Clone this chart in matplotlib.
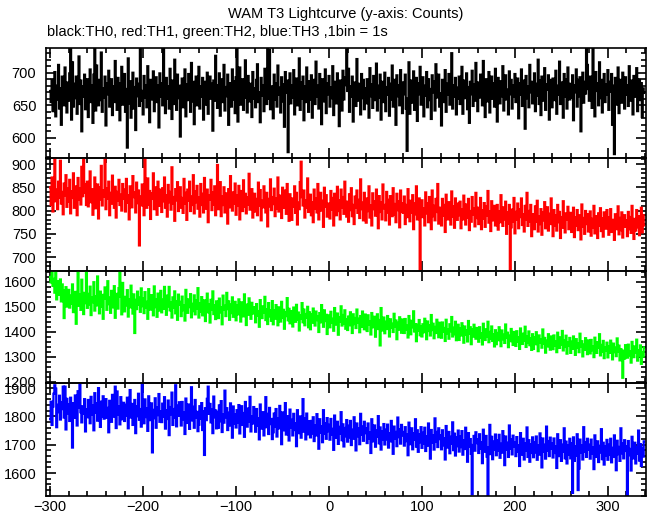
import numpy as np
import matplotlib
matplotlib.use("Agg")
import matplotlib.pyplot as plt
from matplotlib.ticker import MultipleLocator

plt.rcParams['font.family'] = ['Liberation Sans', 'DejaVu Sans']

title = "WAM T3 Lightcurve (y-axis: Counts)"
subtitle = "black:TH0, red:TH1, green:TH2, blue:TH3 ,1bin = 1s"

t_start = -300
bin_size = 1

th0 = [
672,655,690,641,668,701,633,680,659,712,645,676,620,694,667,650,708,662,639,685,
657,699,740,628,716,648,683,661,694,637,670,725,652,688,610,679,663,697,644,671,
690,632,668,705,655,681,623,697,738,642,711,674,650,689,658,731,640,676,662,694,
619,684,667,703,648,672,690,635,679,655,718,661,643,692,670,627,684,709,651,666,
698,640,675,585,722,653,687,631,669,700,645,678,612,691,664,683,649,737,657,672,
636,695,662,681,647,710,668,624,689,659,676,702,641,670,693,655,680,616,699,663,
684,650,742,671,638,692,660,679,645,706,667,629,688,652,720,674,643,697,661,680,
602,668,691,647,676,705,633,682,658,698,671,640,715,656,686,621,673,694,650,667,
709,645,679,663,692,628,686,669,651,700,637,676,694,660,683,611,688,657,726,670,
646,681,699,634,667,690,655,712,642,678,664,697,620,684,671,648,705,659,687,638,
693,740,625,680,708,651,674,690,643,662,719,677,639,695,656,683,668,632,701,660,
676,647,689,713,655,670,624,692,665,681,641,706,673,652,738,660,735,644,679,668,
630,697,659,684,648,711,666,677,639,693,656,682,617,701,669,688,578,674,699,653,
681,662,704,636,676,691,650,668,722,643,685,660,694,627,679,655,708,671,640,687,
659,696,631,674,689,652,717,663,680,645,698,668,621,690,673,656,705,638,684,667,
695,648,677,661,710,635,686,672,653,699,664,618,688,676,642,703,659,681,693,736,
672,706,640,679,663,694,625,685,668,649,721,657,683,670,636,698,661,689,644,676,
653,690,675,631,707,664,682,646,695,669,658,714,642,680,662,697,628,686,671,655,
700,641,678,666,692,634,683,659,711,648,675,689,620,696,664,681,650,704,673,638,
685,667,697,645,580,660,716,637,688,671,654,702,643,678,692,626,684,667,709,651,
674,693,633,680,665,701,647,690,658,675,629,696,670,687,642,713,662,679,697,648,
668,619,689,676,655,704,640,683,666,698,651,672,730,645,681,663,692,636,677,660,
694,652,680,709,637,671,688,661,699,644,678,623,686,667,703,649,682,657,715,670,
641,685,662,697,675,650,718,664,632,690,673,656,701,639,679,694,660,684,648,706,
669,625,692,678,653,687,664,710,642,681,696,659,674,636,702,667,689,645,680,663,
698,655,677,691,630,684,666,705,649,672,688,614,695,661,679,647,712,670,686,653,
676,699,641,683,665,720,652,688,635,694,669,657,707,643,682,674,696,628,689,662,
647,691,673,658,703,637,680,666,717,652,685,676,631,698,663,690,645,708,671,659,
683,662,696,627,681,670,705,648,689,664,693,610,677,700,654,686,668,742,712,675,
657,694,679,646,740,665,633,701,672,684,650,716,661,689,639,676,698,655,682,667,
704,643,686,671,698,620,680,575,692,651,675,708,638,689,667,654,700,678,645,693,
666,681,649,710,657,688,672,636,695,663,680,707,641,674,690,658,684,632,676,669,
]

th1 = [
850,812,871,798,836,910,820,845,803,862,828,907,815,840,792,858,833,876,808,847,
819,866,794,841,827,880,806,852,835,790,870,823,848,813,894,831,912,857,838,812,
862,809,835,884,818,846,791,828,871,805,839,856,783,850,824,896,811,843,830,910,
803,847,826,862,790,838,815,875,829,806,851,785,840,822,866,812,834,800,857,825,
845,798,868,817,833,781,852,824,807,874,829,839,796,860,816,843,725,830,811,856,
834,790,912,821,806,869,813,842,782,837,825,880,803,850,819,791,862,828,810,845,
797,848,820,871,806,833,787,855,818,840,802,893,815,829,778,846,822,861,799,835,
850,806,827,795,868,815,838,780,845,821,862,799,830,812,876,794,841,818,853,804,
828,787,857,812,836,796,870,819,804,845,775,833,824,866,801,839,813,852,790,827,
898,803,819,861,788,830,812,850,796,837,818,772,846,807,874,823,800,839,815,858,
791,832,810,853,781,842,820,799,865,808,836,794,828,813,879,802,824,846,785,817,
836,798,825,790,860,811,844,779,821,807,852,833,796,838,766,825,809,867,801,829,
814,847,788,826,805,871,798,832,812,784,849,820,806,843,793,857,810,778,835,819,
780,826,808,852,795,838,770,817,803,861,905,829,811,843,785,822,806,869,797,814,
834,790,818,775,845,804,826,796,857,781,812,838,800,821,765,849,808,833,787,815,
810,783,842,802,827,768,836,815,790,851,799,822,781,845,806,829,793,862,811,787,
819,776,835,801,848,788,812,771,830,806,843,795,823,784,867,803,817,779,838,800,
774,826,799,852,785,811,768,837,803,820,789,845,808,762,831,797,818,781,856,805,
812,779,840,796,823,770,831,805,788,848,792,814,775,836,801,820,764,843,798,816,
795,830,771,812,786,846,803,777,821,795,833,760,815,792,852,781,808,826,668,799,
822,786,805,768,839,794,816,775,829,801,760,843,788,810,779,825,797,857,772,806,
798,768,825,789,812,754,834,795,781,818,802,770,841,787,809,763,826,796,780,815,
790,819,762,803,781,832,797,770,813,785,825,758,799,776,829,792,805,766,838,784,
806,771,794,827,760,800,783,816,765,809,789,842,774,798,756,820,791,779,810,768,
786,812,759,798,775,833,790,767,807,781,819,750,796,772,812,672,764,802,776,827,
751,797,780,815,762,803,786,826,769,792,755,810,781,838,767,799,776,812,745,790,
792,760,809,776,821,755,788,771,803,748,796,779,818,762,785,807,757,793,771,826,
779,745,801,768,790,757,812,775,797,741,786,763,820,772,753,794,780,808,760,787,
795,754,778,806,743,785,767,801,758,790,774,738,813,765,784,750,799,771,792,755,
770,798,746,782,763,810,751,788,772,741,794,767,805,756,783,744,796,774,761,801,
785,748,771,803,754,780,766,737,792,760,775,809,749,784,758,796,742,773,790,765,
779,745,797,760,786,752,810,768,739,782,757,801,764,788,747,772,806,753,790,768,
]

th2 = [
1620,1598,1645,1584,1612,1557,1640,1530,1603,1575,1548,1610,1522,1590,1567,1455,1538,1579,1501,1560,
1568,1497,1545,1512,1590,1479,1536,1560,1432,1521,1640,1504,1550,1488,1609,1527,1471,1556,1515,1642,
1496,1552,1510,1581,1467,1538,1519,1599,1485,1543,1506,1622,1530,1474,1561,1500,1548,1452,1534,1578,
1545,1488,1603,1511,1537,1476,1564,1520,1498,1583,1456,1529,1552,1493,1575,1645,1541,1470,1596,1526,
1482,1540,1506,1567,1461,1531,1498,1585,1516,1473,1550,1395,1528,1491,1561,1509,1537,1480,1574,1503,
1533,1475,1559,1496,1520,1452,1571,1504,1489,1547,1515,1466,1582,1499,1530,1460,1553,1512,1485,1564,
1478,1529,1492,1580,1511,1468,1545,1502,1580,1486,1519,1457,1538,1497,1562,1474,1523,1448,1549,1508,
1520,1463,1541,1487,1505,1445,1568,1493,1476,1530,1499,1551,1458,1512,1483,1546,1470,1526,1494,1575,
1457,1515,1480,1539,1466,1502,1526,1443,1494,1553,1478,1510,1437,1528,1489,1562,1471,1506,1451,1522,
1512,1455,1533,1478,1497,1430,1545,1488,1504,1463,1556,1491,1522,1448,1509,1475,1538,1460,1499,1520,
1446,1505,1470,1530,1485,1441,1518,1492,1462,1550,1479,1427,1509,1468,1534,1487,1452,1516,1473,1498,
1496,1438,1511,1465,1483,1420,1527,1474,1455,1502,1478,1540,1447,1490,1431,1515,1462,1486,1444,1523,
1430,1485,1452,1507,1469,1426,1498,1476,1441,1520,1457,1488,1412,1479,1463,1535,1446,1492,1434,1470,
1483,1421,1497,1462,1440,1508,1449,1477,1405,1466,1452,1515,1438,1489,1426,1471,1456,1500,1418,1478,
1410,1469,1436,1493,1452,1425,1481,1447,1461,1399,1475,1438,1507,1456,1420,1486,1443,1468,1391,1454,
1466,1418,1480,1437,1452,1404,1495,1445,1429,1473,1388,1458,1441,1502,1425,1467,1432,1486,1412,1449,
1407,1461,1426,1478,1440,1395,1470,1431,1455,1415,1489,1436,1452,1398,1463,1420,1481,1444,1410,1469,
1452,1403,1466,1428,1441,1389,1475,1418,1437,1460,1380,1433,1470,1411,1447,1345,1495,1405,1439,1457,
1394,1440,1411,1463,1426,1381,1450,1416,1432,1399,1472,1421,1445,1370,1436,1408,1458,1425,1396,1449,
1438,1395,1451,1409,1424,1377,1463,1413,1390,1444,1418,1482,1401,1430,1362,1428,1405,1447,1386,1420,
1381,1430,1398,1452,1414,1370,1441,1403,1425,1385,1467,1407,1432,1374,1419,1395,1448,1411,1378,1436,
1421,1376,1437,1401,1415,1363,1448,1394,1409,1372,1430,1402,1459,1381,1416,1390,1440,1366,1405,1428,
1367,1412,1385,1434,1397,1356,1421,1388,1405,1361,1443,1392,1418,1350,1409,1380,1428,1395,1372,1415,
1404,1360,1418,1377,1393,1349,1432,1386,1367,1410,1381,1440,1358,1399,1372,1421,1363,1390,1341,1406,
1350,1395,1366,1418,1379,1342,1405,1370,1388,1355,1429,1375,1396,1338,1384,1362,1411,1376,1347,1399,
1388,1343,1402,1360,1377,1331,1413,1368,1351,1392,1364,1420,1339,1381,1355,1401,1346,1373,1327,1390,
1331,1378,1350,1398,1362,1322,1385,1357,1370,1336,1409,1352,1375,1316,1364,1341,1390,1358,1328,1381,
1372,1330,1385,1344,1361,1318,1396,1350,1335,1377,1349,1403,1325,1366,1339,1384,1312,1357,1343,1375,
1315,1360,1332,1381,1345,1307,1370,1336,1353,1318,1392,1340,1362,1301,1348,1327,1374,1341,1310,1365,
1352,1313,1367,1326,1342,1298,1376,1331,1315,1358,1335,1390,1305,1347,1320,1363,1294,1338,1323,1356,
1297,1341,1315,1364,1326,1289,1352,1318,1336,1302,1373,1321,1344,1285,1330,1309,1215,1324,1292,1346,
1333,1296,1348,1305,1320,1276,1359,1312,1298,1341,1317,1368,1284,1326,1303,1345,1271,1318,1300,1337,
]

th3 = [
1790,1852,1770,1835,1880,1910,1898,1762,1841,1815,1873,1789,1850,1826,1905,1796,1905,1754,1862,1811,
1843,1784,1866,1812,1690,1847,1795,1874,1823,1768,1889,1831,1912,1815,1779,1836,1810,1861,1747,1825,
1797,1858,1820,1776,1869,1806,1839,1751,1882,1814,1846,1785,1900,1824,1763,1852,1800,1871,1792,1834,
1861,1795,1830,1744,1855,1812,1781,1876,1822,1799,1905,1759,1888,1807,1836,1772,1868,1818,1790,1848,
1784,1841,1803,1866,1758,1827,1893,1796,1844,1770,1819,1858,1741,1835,1801,1880,1788,1826,1764,1912,
1837,1776,1860,1798,1829,1749,1871,1812,1787,1846,1673,1823,1794,1864,1760,1832,1805,1879,1781,1817,
1780,1845,1799,1868,1757,1821,1791,1856,1734,1833,1808,1884,1770,1826,1795,1910,1765,1838,1802,1850,
1829,1768,1851,1790,1815,1738,1863,1801,1777,1842,1756,1820,1903,1786,1834,1760,1858,1795,1816,1748,
1771,1836,1793,1847,1752,1818,1664,1829,1787,1862,1905,1809,1844,1779,1825,1741,1870,1797,1821,1758,
1816,1760,1839,1783,1854,1745,1806,1778,1891,1797,1829,1752,1813,1768,1846,1790,1725,1835,1774,1808,
1761,1822,1779,1840,1740,1804,1836,1770,1812,1728,1851,1793,1764,1828,1782,1869,1747,1801,1775,1833,
1803,1746,1826,1768,1794,1719,1842,1781,1757,1815,1733,1797,1868,1762,1809,1738,1830,1773,1791,1720,
1744,1810,1763,1826,1729,1793,1758,1837,1776,1702,1814,1769,1751,1847,1736,1801,1782,1715,1824,1760,
1788,1733,1809,1752,1776,1695,1822,1767,1741,1800,1725,1787,1861,1746,1794,1719,1810,1758,1737,1783,
1726,1784,1740,1797,1713,1769,1733,1808,1752,1686,1790,1743,1765,1709,1822,1739,1776,1721,1794,1748,
1770,1718,1791,1735,1756,1682,1803,1748,1725,1781,1703,1763,1740,1815,1716,1772,1694,1759,1730,1787,
1711,1767,1726,1784,1699,1753,1721,1797,1742,1680,1775,1730,1758,1702,1809,1736,1764,1714,1781,1741,
1757,1706,1775,1722,1744,1671,1790,1735,1712,1768,1693,1750,1728,1801,1705,1761,1683,1747,1719,1773,
1701,1753,1719,1771,1690,1740,1712,1784,1730,1668,1764,1721,1745,1695,1796,1727,1754,1704,1770,1733,
1745,1697,1762,1713,1736,1663,1778,1724,1702,1758,1684,1740,1718,1790,1693,1751,1675,1737,1709,1762,
1689,1742,1705,1760,1678,1729,1697,1775,1716,1651,1752,1708,1734,1683,1793,1712,1745,1692,1758,1720,
1733,1684,1751,1698,1722,1648,1766,1711,1690,1745,1670,1728,1703,1779,1681,1739,1662,1726,1695,1750,
1676,1729,1692,1748,1665,1716,1685,1760,1703,1640,1741,1694,1720,1668,1525,1699,1731,1679,1744,1706,
1719,1671,1737,1686,1709,1635,1753,1697,1675,1731,1658,1522,1690,1770,1667,1728,1649,1711,1682,1736,
1663,1716,1680,1735,1654,1703,1672,1748,1691,1628,1729,1683,1707,1657,1768,1686,1719,1666,1732,1694,
1709,1660,1727,1676,1698,1625,1741,1687,1665,1721,1648,1705,1680,1761,1657,1716,1640,1701,1671,1726,
1656,1709,1673,1729,1647,1697,1665,1740,1684,1620,1722,1676,1700,1651,1764,1679,1713,1660,1725,1687,
1704,1655,1722,1671,1694,1618,1737,1682,1660,1716,1643,1700,1676,1758,1652,1711,1634,1698,1666,1721,
1652,1705,1530,1726,1643,1694,1662,1737,1540,1616,1718,1672,1697,1648,1762,1675,1709,1657,1721,1683,
1700,1651,1718,1668,1690,1614,1733,1679,1657,1712,1639,1696,1673,1755,1649,1707,1630,1694,1663,1717,
1647,1700,1664,1721,1638,1689,1657,1733,1675,1610,1714,1667,1692,1643,1758,1670,1704,1652,1716,1678,
1695,1522,1713,1663,1685,1609,1728,1674,1652,1707,1634,1691,1668,1750,1644,1702,1625,1689,1658,1712,
]

xticks = [-300, -200, -100, 0, 100, 200, 300]

series = [th0, th1, th2, th3]
colors = ['#000000', '#ff0000', '#00ff00', '#0000ff']
ylims = [(569, 738), (670, 913), (1194, 1644), (1519, 1918)]
ymajor = [50, 50, 100, 100]
yminor = [10, 10, 20, 20]
# panel edges in pixels (top, bottom)
W, H = 652, 515
panels_px = [(48, 158), (158, 271), (271, 383), (383, 496)]
left_px, right_px = 46, 646

fig = plt.figure(figsize=(W / 100, H / 100), dpi=100)

for i, (vals, col) in enumerate(zip(series, colors)):
    top, bot = panels_px[i]
    ax = fig.add_axes([left_px / W, 1 - bot / H, (right_px - left_px) / W, (bot - top) / H])
    t = t_start + bin_size * np.arange(len(vals))
    ax.plot(t, vals, color=col, lw=1.6, drawstyle='steps-mid', solid_joinstyle='miter')
    ax.set_xlim(-304.5, 341)
    ax.set_ylim(*ylims[i])
    ax.xaxis.set_major_locator(MultipleLocator(100))
    ax.xaxis.set_minor_locator(MultipleLocator(20))
    ax.yaxis.set_major_locator(MultipleLocator(ymajor[i]))
    ax.yaxis.set_minor_locator(MultipleLocator(yminor[i]))
    ax.tick_params(which='both', direction='in', top=True, right=True, width=1.2,
                   labelsize=10.5, color='black')
    ax.tick_params(which='major', length=7)
    ax.tick_params(which='minor', length=3.5)
    ax.tick_params(axis='y', pad=7)
    ax.tick_params(axis='x', pad=3)
    for s in ax.spines.values():
        s.set_linewidth(1.2)
    if i < 3:
        ax.tick_params(labelbottom=False)
    else:
        ax.set_xticks(xticks)
    ax.patch.set_alpha(0)

fig.text(346 / W, 1 - 18 / H, title, ha='center', va='baseline', fontsize=10.5)
fig.text(47 / W, 1 - 36 / H, subtitle, ha='left', va='baseline', fontsize=10.5)

fig.savefig('out.png', dpi=100)
